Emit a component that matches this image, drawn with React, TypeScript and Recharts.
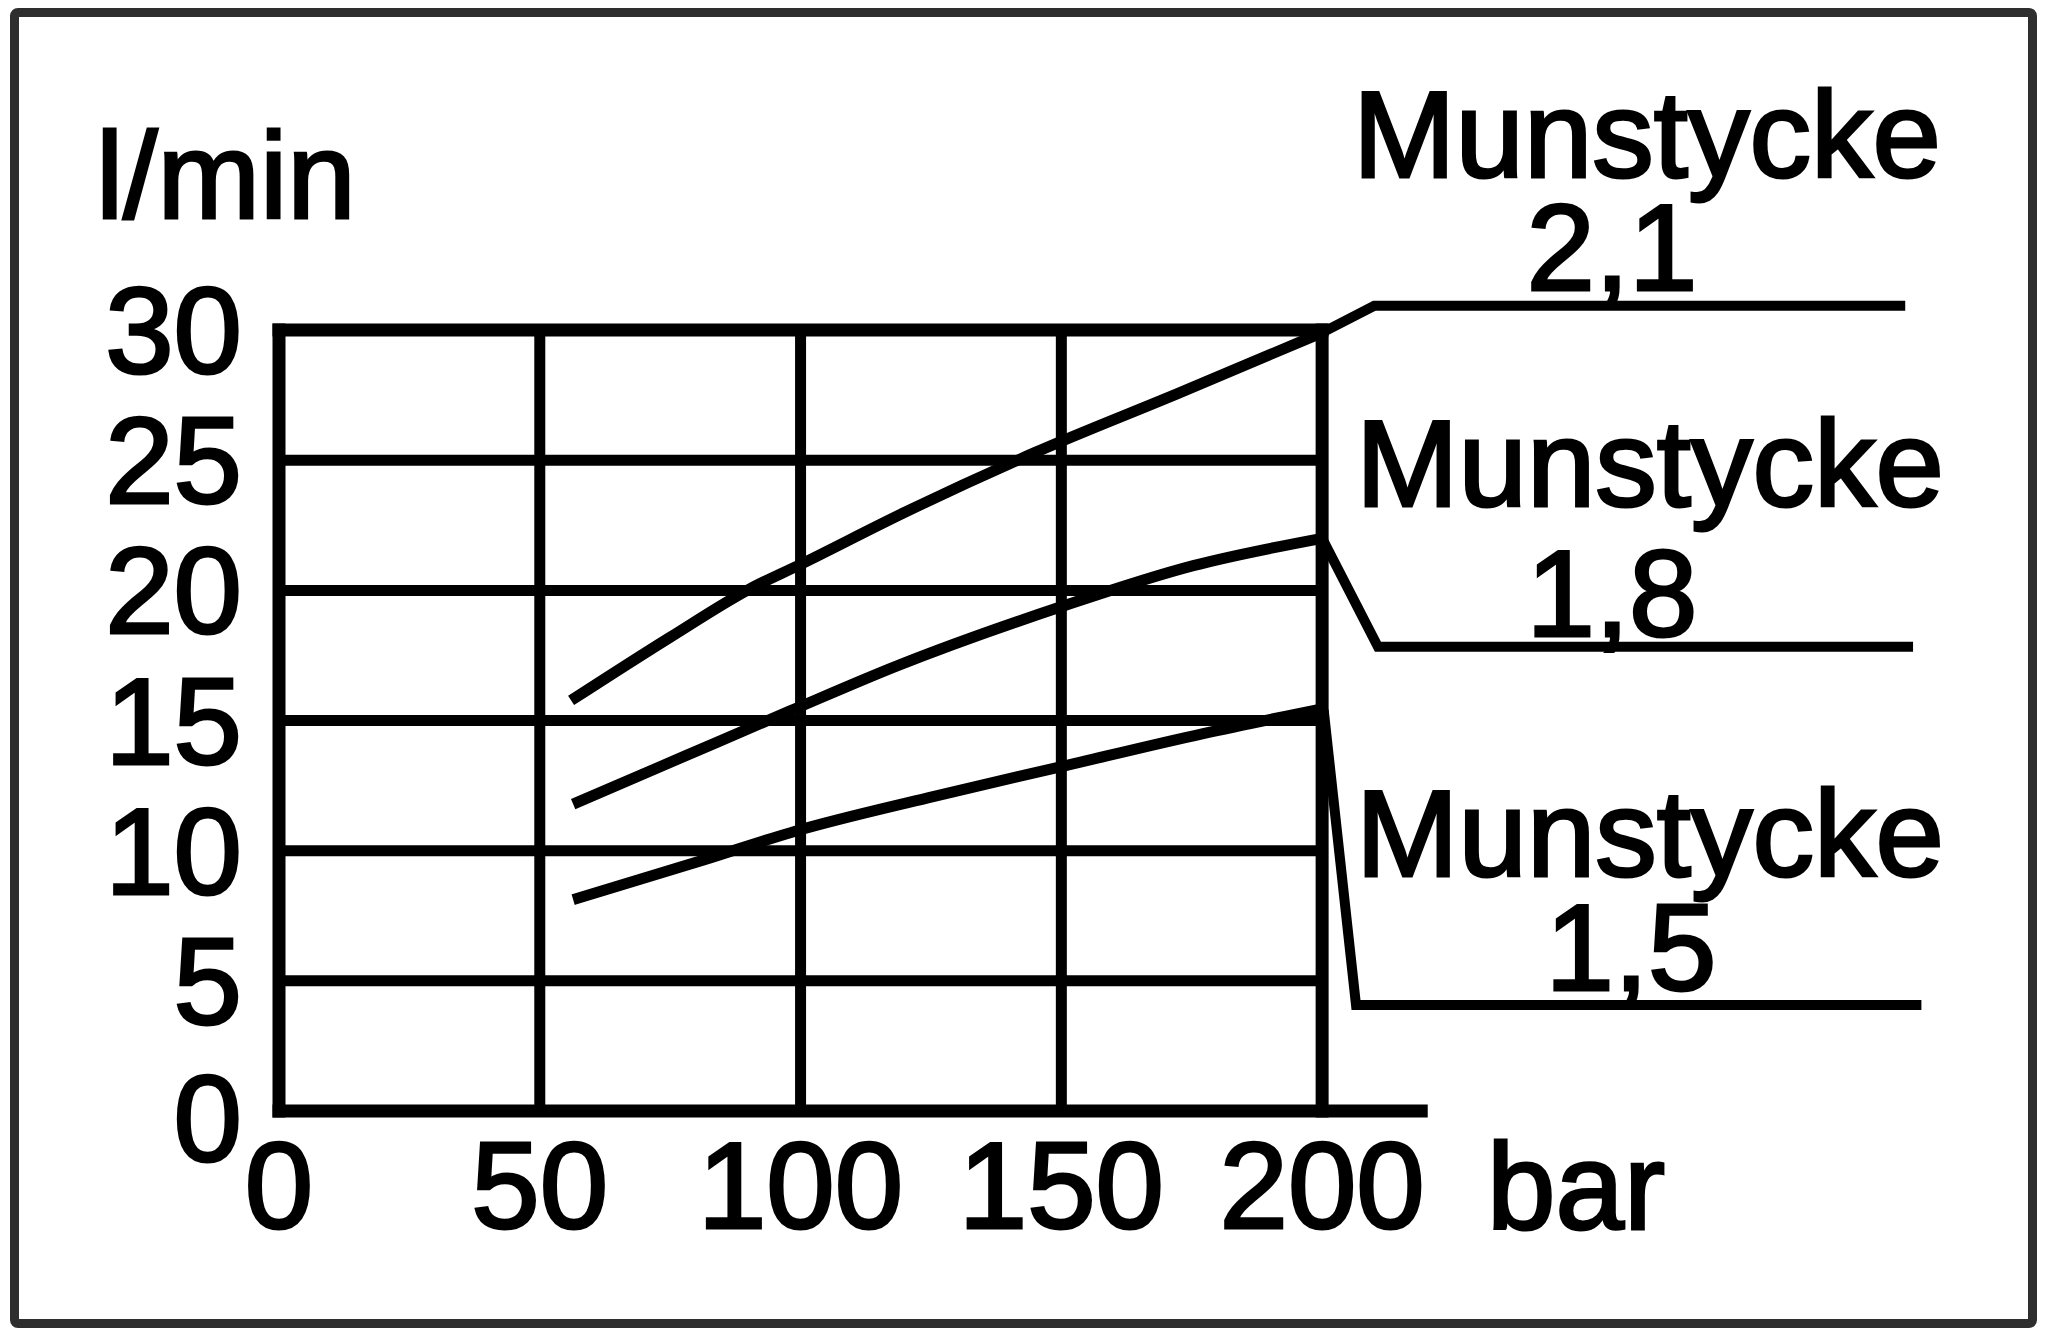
import React from 'react';
import { LineChart, Line, XAxis, YAxis, ReferenceLine } from 'recharts';

// nozzle curves, pressure in bar -> flow in l/min
const PRESSURE_21 = [56.0, 75.0, 90.2, 100.0, 120.0, 145.0, 172.4, 200];
const FLOW_21 = [15.77, 18.2, 20.05, 21.0, 23.0, 25.3, 27.57, 29.9];

const PRESSURE_18 = [56.4, 78.0, 98.0, 118.5, 149.8, 175.3, 200];
const FLOW_18 = [11.79, 13.65, 15.37, 17.1, 19.36, 20.95, 22.0];

const PRESSURE_15 = [56.4, 81.4, 99.0, 124.4, 149.8, 177.2, 200];
const FLOW_15 = [8.12, 9.64, 10.75, 12.03, 13.22, 14.5, 15.45];

// leader lines from each curve end to its label
const LEADER_X_21 = [200, 210.0, 311.8];
const LEADER_Y_21 = [29.9, 30.93, 30.93];
const LEADER_X_18 = [200, 210.7, 313.3];
const LEADER_Y_18 = [22.0, 17.83, 17.83];
const LEADER_X_15 = [200.3, 206.5, 314.9];
const LEADER_Y_15 = [15.4, 4.07, 4.07];

const X_TICKS = [0, 50, 100, 150, 200];
const Y_TICKS = [0, 5, 10, 15, 20, 25, 30];
const NOZZLES = ['2,1', '1,8', '1,5'];

const FONT = '"Liberation Sans", Arial, sans-serif';
const FS = 123;

const toRows = (xs: number[], ys: number[]) =>
  xs.map((p, i) => ({ pressure: p, flow: ys[i] }));

const XTick = ({ x, y, payload }: any) => (
  <text
    x={x}
    y={y + 117}
    textAnchor="middle"
    fontFamily={FONT}
    fontSize={FS}
    fill="#000"
    stroke="#000"
    strokeWidth={3}
  >
    {payload.value}
  </text>
);

const YTick = ({ x, y, payload }: any) => (
  <text
    x={x - 37}
    y={y + (payload.value === 0 ? 50 : 43)}
    textAnchor="end"
    fontFamily={FONT}
    fontSize={FS}
    fill="#000"
    stroke="#000"
    strokeWidth={3}
  >
    {payload.value}
  </text>
);

const txt = { fontFamily: FONT, fontSize: FS, fill: '#000', stroke: '#000', strokeWidth: 3 };

export default function App() {
  const curves = [
    toRows(PRESSURE_21, FLOW_21),
    toRows(PRESSURE_18, FLOW_18),
    toRows(PRESSURE_15, FLOW_15),
  ];
  const leaders = [
    toRows(LEADER_X_21, LEADER_Y_21),
    toRows(LEADER_X_18, LEADER_Y_18),
    toRows(LEADER_X_15, LEADER_Y_15),
  ];

  return (
    <div style={{ position: 'absolute', left: 0, top: 0, width: 2048, height: 1333, background: '#fff' }}>
      <div
        style={{
          position: 'absolute',
          left: 10,
          top: 8,
          width: 2027,
          height: 1320,
          border: '9px solid #2e2e2e',
          borderRadius: 8,
          boxSizing: 'border-box',
        }}
      />
      <div style={{ position: 'absolute', left: 0, top: 0 }}>
        <LineChart
          width={2048}
          height={1333}
          margin={{ top: 278, right: 100, bottom: 192, left: 219 }}
        >
          <XAxis
            dataKey="pressure"
            type="number"
            domain={[0, 320]}
            ticks={X_TICKS}
            axisLine={false}
            tickLine={false}
            tickSize={0}
            tickMargin={0}
            height={30}
            tick={<XTick />}
            interval={0}
          />
          <YAxis
            type="number"
            domain={[0, 32]}
            ticks={Y_TICKS}
            axisLine={false}
            tickLine={false}
            tickSize={0}
            tickMargin={0}
            width={60}
            tick={<YTick />}
            interval={0}
          />

          {/* inner grid, only over 0..200 bar */}
          {Y_TICKS.slice(1, -1).map((v) => (
            <ReferenceLine
              key={'h' + v}
              segment={[{ x: 0, y: v }, { x: 200, y: v }]}
              stroke="#000"
              strokeWidth={11}
            />
          ))}
          {X_TICKS.slice(1, -1).map((v) => (
            <ReferenceLine
              key={'v' + v}
              segment={[{ x: v, y: 0 }, { x: v, y: 30 }]}
              stroke="#000"
              strokeWidth={11}
            />
          ))}

          {/* frame */}
          <ReferenceLine segment={[{ x: 0, y: 30 }, { x: 200, y: 30 }]} stroke="#000" strokeWidth={13} strokeLinecap="square" />
          <ReferenceLine segment={[{ x: 0, y: 0 }, { x: 0, y: 30 }]} stroke="#000" strokeWidth={13} strokeLinecap="square" />
          <ReferenceLine segment={[{ x: 200, y: 0 }, { x: 200, y: 30 }]} stroke="#000" strokeWidth={13} strokeLinecap="square" />
          <ReferenceLine segment={[{ x: 0, y: 0 }, { x: 219, y: 0 }]} stroke="#000" strokeWidth={13} strokeLinecap="square" />

          {curves.map((rows, i) => (
            <Line
              key={'c' + NOZZLES[i]}
              data={rows}
              dataKey="flow"
              type="monotone"
              stroke="#000"
              strokeWidth={11}
              dot={false}
              activeDot={false}
              isAnimationActive={false}
            />
          ))}
          {leaders.map((rows, i) => (
            <Line
              key={'l' + NOZZLES[i]}
              data={rows}
              dataKey="flow"
              type="linear"
              stroke="#000"
              strokeWidth={10}
              dot={false}
              activeDot={false}
              isAnimationActive={false}
            />
          ))}
        </LineChart>
      </div>

      <svg
        width={2048}
        height={1333}
        style={{ position: 'absolute', left: 0, top: 0, pointerEvents: 'none' }}
      >
        <text x={96} y={218} {...txt}>l/min</text>
        <text x={1576} y={1229} textAnchor="middle" {...txt}>bar</text>

        <text x={1647} y={177} textAnchor="middle" {...txt}>Munstycke</text>
        <text x={1612} y={290} textAnchor="middle" {...txt}>{NOZZLES[0]}</text>

        <text x={1650} y={506} textAnchor="middle" {...txt}>Munstycke</text>
        <text x={1612} y={636} textAnchor="middle" {...txt}>{NOZZLES[1]}</text>

        <text x={1650} y={876} textAnchor="middle" {...txt}>Munstycke</text>
        <text x={1631} y={990} textAnchor="middle" {...txt}>{NOZZLES[2]}</text>
      </svg>
    </div>
  );
}
